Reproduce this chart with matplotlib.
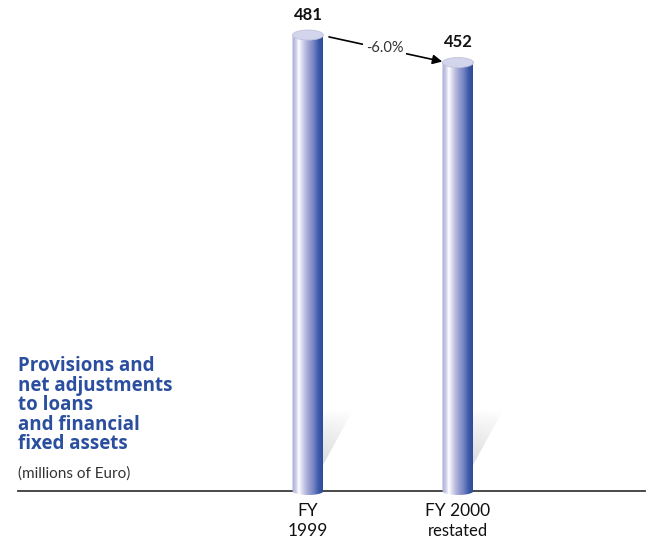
import numpy as np
import matplotlib.pyplot as plt
from matplotlib.colors import LinearSegmentedColormap
from matplotlib.patches import Ellipse, Polygon

categories = ["FY\n1999", "FY 2000"]
sublabels = ["", "restated"]
values = [481, 452]
title_lines = ["Provisions and", "net adjustments", "to loans",
               "and financial", "fixed assets"]
unit_label = "(millions of Euro)"

plt.rcParams['font.family'] = ['Lato', 'DejaVu Sans']

W, H = 653, 538
fig = plt.figure(figsize=(W / 100, H / 100), dpi=100)
ax = fig.add_axes([0, 0, 1, 1])

# pixel scale: 150 px per category step, ~0.948 px per unit of value
px_x = 150.0
px_y = 0.948
x0_px, base_px = 308, 491
ax.set_xlim(-x0_px / px_x, (W - x0_px) / px_x)
ax.set_ylim(-(H - base_px) / px_y, base_px / px_y)
ax.axis('off')

bar_w = 31 / px_x
ell_h = 10 / px_y

cyl = LinearSegmentedColormap.from_list("cyl", [
    (0.0, "#a9aad6"), (0.12, "#c9cae8"), (0.22, "#ffffff"), (0.3, "#e2e3f3"),
    (0.45, "#b4b6dc"), (0.7, "#7483c3"), (0.86, "#3d5aa8"), (1.0, "#2b4a99")])
grad = np.linspace(0, 1, 256).reshape(1, -1)

shade = LinearSegmentedColormap.from_list("shade", ["#ffffff", "#c6c6c6"])
yy, xx = np.mgrid[0:1:100j, 0:1:60j]
shadow_img = np.clip(yy ** 0.8 * (1 - 0.4 * xx), 0, 1)

# baseline
ax.plot([(18 - x0_px) / px_x, (645 - x0_px) / px_x], [0, 0], color="#3a3a3a", lw=1.3, zorder=2)

for i, v in enumerate(values):
    x = i
    xl, xr = x - bar_w / 2, x + bar_w / 2

    # shadow cast to the right of the cylinder
    dx = lambda p: x + (p - 15) / px_x
    dy = lambda p: p / px_y
    shadow = Polygon([(dx(15), dy(2)), (dx(15), dy(50)), (dx(30), dy(81)),
                      (dx(60), dy(81)), (dx(17), dy(2))], closed=True,
                     facecolor="none", edgecolor="none")
    ax.add_patch(shadow)
    sh = ax.imshow(shadow_img, cmap=shade, vmin=0, vmax=1,
                   extent=[dx(15), dx(60), dy(0), dy(81)], origin="upper",
                   aspect="auto", zorder=1)
    sh.set_clip_path(shadow)

    # cylinder body with rounded bottom
    t = np.linspace(np.pi, 2 * np.pi, 40)
    bottom = np.column_stack([x + bar_w / 2 * np.cos(t), ell_h / 2 * np.sin(t) * 0.8])
    outline = np.vstack([[xl, v], bottom, [xr, v]])
    body = Polygon(outline, closed=True, facecolor="none", edgecolor="none")
    ax.add_patch(body)
    im = ax.imshow(grad, cmap=cyl, extent=[xl, xr, -ell_h, v], aspect="auto", zorder=3)
    im.set_clip_path(body)

    # top cap
    ax.add_patch(Ellipse((x, v), bar_w, ell_h, facecolor="#d3d5ec",
                         edgecolor="#c2c4dc", lw=0.6, zorder=4))

    ax.annotate(str(v), (x, v), xytext=(0, 9), textcoords="offset points",
                ha="center", va="bottom", fontsize=12, fontweight="bold",
                color="#111111", zorder=5)

    ax.text(x, (base_px - 503) / px_y, categories[i], ha="center", va="top",
            fontsize=12.5, color="#111111", linespacing=1.3)
    if sublabels[i]:
        ax.text(x, (base_px - 523) / px_y, sublabels[i], ha="center", va="top",
                fontsize=12, color="#111111")

# change arrow between the two tops
pct = (values[1] - values[0]) / values[0] * 100
ax.annotate("", xy=(1 - 0.105, values[1] + 1), xytext=(0 + 0.14, values[0] - 2),
            arrowprops=dict(arrowstyle="-|>", color="black", lw=1.2,
                            mutation_scale=14, shrinkA=0, shrinkB=0), zorder=5)
ax.text(0.51, (values[0] + values[1]) / 2 + 1, f"{pct:.1f}%", ha="center", va="center",
        fontsize=10.5, color="#333333", zorder=6,
        bbox=dict(facecolor="white", edgecolor="none", pad=2))

# chart title, one line at a time
title_x = (18 - x0_px) / px_x
for k, line in enumerate(title_lines):
    ax.text(title_x, (base_px - 366 - 19.5 * k) / px_y, line, ha="left", va="center",
            fontsize=13.5, fontweight="bold", color="#2b4f9e",
            family=["Open Sans", "DejaVu Sans"])
ax.text(title_x, (base_px - 474) / px_y, unit_label, ha="left", va="center",
        fontsize=11, color="#333333")

fig.savefig("out.png", dpi=100)
